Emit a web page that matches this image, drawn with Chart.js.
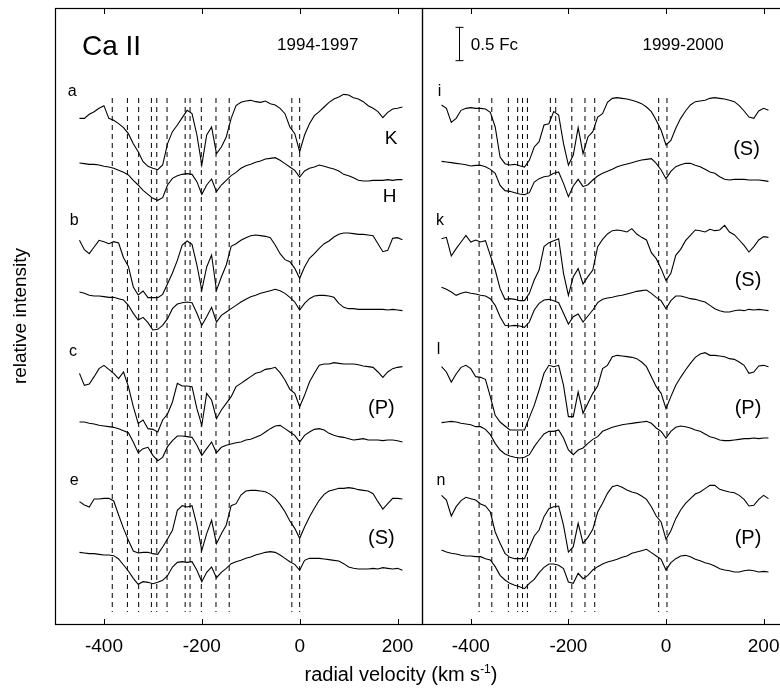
<!DOCTYPE html>
<html lang="en">
<head>
<meta charset="UTF-8" />
<title>Ca II K and H line profiles</title>

<script src="https://cdn.jsdelivr.net/npm/chart.js"></script>

<style>
  html, body { margin: 0; padding: 0; width: 780px; height: 690px; overflow: hidden; background: #fff; }
  canvas { position: absolute; top: 0; }
  #left { left: 0; }
  #right { left: 400px; }
  #xtitle {
    position: absolute; left: 0; width: 802px; top: 663px;
    text-align: center; line-height: 22px; color: #000;
    font: 20px "Liberation Sans", Arial, sans-serif;
  }
  #xtitle sup { font-size: 12px; line-height: 0; vertical-align: 0.65em; }
</style>
</head>
<body>

<canvas id="left" width="440" height="690"></canvas>
<canvas id="right" width="400" height="690"></canvas>
<div id="xtitle">radial velocity (km s<sup>-1</sup>)</div>

<script>
  // radial velocity grid (km/s)
  const velocity = [-460, -450, -440, -430, -420, -410, -400, -390, -380, -370, -360, -350, -340, -330, -320, -310,
    -300, -290, -280, -270, -260, -250, -240, -230, -220, -210, -200, -190, -180, -170, -160, -150, -140, -130,
    -120, -110, -100, -90, -80, -70, -60, -50, -40, -30, -20, -10, 0, 10, 20, 30, 40, 50, 60, 70, 80, 90, 100,
    110, 120, 130, 140, 150, 160, 170, 180, 190, 200, 210];

  const xTicks = [-400, -200, 0, 200];

  // flux in 0.01 Fc above each spectrum's own zero level
  // 1994-1997 panel (K upper, H lower)
  const aK = [null, 80, 80, 86, 90, 95, 99, 80, 77, 72, 66, 57, 42, 30, 15, 8, 5, 3, 10, 42, 60, 70, 81, 92, 87, 55, 10, 55, 67, 27, 37, 52, 80, 99, 104, 106, 107, 105, 104, 106, 102, 100, 95, 87, 67, 57, 30, 55, 72, 84, 90, 97, 104, 109, 112, 116, 115, 111, 109, 105, 99, 95, 90, 81, 89, 94, 95, 97];
  const aH = [null, 58, 57, 56, 56, 55, 53, 52, 50, 47, 44, 40, 32, 25, 17, 11, 5, 2, 6, 25, 35, 39, 41, 42, 41, 30, 11, 25, 34, 15, 25, 32, 39, 44, 50, 54, 56, 59, 61, 64, 65, 66, 62, 57, 52, 47, 37, 46, 50, 52, 55, 53, 51, 49, 46, 41, 39, 36, 32, 31, 31, 32, 32, 32, 33, 32, 33, 33];
  const bK = [null, 92, 78, 72, 82, 92, 90, 87, 90, 88, 66, 53, 22, 10, 16, 6, 6, 6, 11, 27, 43, 62, 85, 91, 86, 55, 17, 52, 70, 17, 37, 55, 83, 87, 92, 96, 99, 100, 99, 98, 96, 85, 72, 63, 60, 50, 35, 52, 65, 72, 80, 87, 91, 97, 101, 103, 103, 102, 101, 101, 100, 99, 87, 75, 77, 95, 96, 93];
  const bH = [null, 62, 60, 57, 56, 56, 55, 54, 54, 52, 50, 42, 30, 20, 24, 16, 5, 6, 12, 22, 37, 44, 46, 47, 46, 30, 12, 25, 39, 17, 27, 32, 37, 42, 47, 51, 55, 57, 60, 62, 64, 66, 64, 60, 54, 47, 35, 45, 52, 56, 57, 57, 56, 54, 45, 39, 37, 37, 36, 36, 36, 36, 36, 36, 35, 36, 35, 34];
  const cK = [null, 90, 72, 74, 85, 97, 102, 96, 90, 82, 92, 70, 40, 15, 20, 7, 6, 2, 20, 29, 47, 75, 71, 71, 70, 37, 12, 60, 50, 22, 35, 45, 55, 70, 75, 80, 85, 90, 92, 96, 97, 99, 91, 80, 66, 60, 40, 57, 77, 90, 102, 104, 104, 106, 105, 104, 104, 104, 103, 101, 100, 99, 92, 84, 92, 97, 99, 100];
  const cH = [null, 62, 62, 60, 59, 57, 56, 55, 54, 52, 49, 46, 32, 16, 22, 24, 12, 4, 9, 25, 34, 41, 41, 40, 39, 27, 12, 22, 32, 16, 24, 27, 29, 31, 32, 35, 36, 39, 42, 47, 52, 56, 57, 52, 47, 42, 32, 42, 47, 51, 52, 50, 45, 42, 40, 39, 37, 35, 36, 37, 35, 35, 35, 34, 35, 35, 34, 32];
  const eK = [null, 85, 80, 77, 89, 89, 90, 90, 86, 65, 45, 27, 11, 8, 9, 9, 7, 6, 17, 29, 42, 72, 79, 77, 79, 50, 12, 37, 57, 22, 37, 50, 79, 82, 95, 101, 102, 102, 101, 100, 96, 90, 81, 70, 56, 45, 30, 47, 62, 75, 87, 96, 101, 103, 105, 105, 106, 105, 103, 102, 101, 97, 85, 74, 82, 90, 90, 89];
  const eH = [null, 54, 53, 52, 52, 51, 50, 50, 49, 44, 35, 26, 15, 6, 10, 9, 7, 9, 12, 19, 32, 39, 40, 39, 40, 27, 10, 24, 32, 16, 24, 30, 37, 40, 42, 45, 47, 50, 52, 54, 55, 54, 50, 45, 40, 36, 27, 42, 45, 45, 45, 44, 43, 42, 41, 37, 32, 30, 29, 29, 29, 30, 29, 31, 30, 29, 30, 27];

  // 1999-2000 panel
  const iK = [100, 95, 74, 80, 92, 95, 96, 95, 95, 94, 89, 67, 22, 12, 10, 11, 9, 7, 17, 37, 45, 70, 72, 90, 85, 42, 10, 25, 66, 27, 52, 60, 82, 87, 104, 110, 111, 110, 109, 107, 105, 102, 97, 90, 77, 62, 40, 47, 65, 80, 91, 100, 105, 106, 107, 110, 111, 110, 109, 107, 105, 99, 91, 82, 80, 91, 95, 92];
  const iH = [58, 57, 56, 55, 54, 53, 51, 52, 52, 50, 46, 40, 22, 14, 13, 11, 9, 8, 11, 27, 32, 35, 36, 40, 42, 25, 5, 21, 31, 20, 23, 30, 36, 40, 43, 46, 50, 52, 54, 56, 58, 60, 61, 62, 55, 45, 32, 43, 50, 53, 55, 55, 52, 50, 46, 42, 40, 35, 31, 30, 31, 31, 31, 30, 30, 30, 29, 28];
  const kK = [97, 99, 71, 82, 92, 102, 92, 95, 92, 94, 72, 50, 22, 6, 7, 6, 4, 4, 15, 35, 50, 85, 91, 94, 97, 45, 12, 40, 52, 29, 40, 50, 85, 96, 104, 109, 110, 109, 107, 112, 104, 99, 95, 76, 67, 52, 34, 45, 72, 81, 94, 102, 110, 109, 107, 111, 109, 110, 117, 107, 103, 95, 87, 77, 85, 95, 100, 99];
  const kH = [64, 61, 57, 52, 55, 57, 55, 54, 52, 51, 47, 37, 20, 7, 6, 7, 6, 4, 12, 30, 40, 45, 46, 44, 41, 25, 9, 20, 24, 12, 21, 30, 41, 46, 48, 49, 51, 52, 54, 56, 58, 59, 60, 55, 49, 44, 32, 44, 51, 51, 49, 47, 46, 44, 42, 37, 32, 29, 27, 27, 29, 30, 29, 31, 30, 31, 30, 29];
  const lK = [100, 92, 77, 89, 99, 102, 97, 85, 84, 81, 55, 27, 17, 11, 5, 5, 5, 5, 24, 42, 65, 90, 102, 100, 102, 72, 25, 25, 62, 30, 45, 60, 71, 97, 102, 115, 117, 116, 115, 114, 112, 107, 100, 85, 70, 60, 37, 55, 72, 84, 95, 105, 114, 119, 121, 117, 117, 116, 115, 112, 111, 107, 102, 90, 92, 101, 102, 100];
  const lH = [56, 57, 58, 57, 55, 54, 53, 50, 50, 46, 38, 25, 15, 9, 6, 4, 3, 4, 8, 20, 30, 39, 43, 43, 45, 33, 15, 8, 15, 18, 25, 31, 35, 43, 46, 49, 51, 53, 54, 55, 56, 57, 58, 55, 48, 43, 33, 43, 49, 51, 50, 48, 45, 43, 39, 35, 33, 30, 29, 29, 30, 31, 32, 32, 33, 32, 33, 33];
  const nK = [102, 95, 71, 85, 94, 99, 97, 95, 89, 86, 77, 47, 30, 15, 9, 7, 7, 7, 24, 41, 50, 70, 82, 85, 86, 57, 17, 25, 60, 30, 39, 51, 77, 90, 105, 115, 117, 114, 110, 107, 105, 101, 96, 85, 71, 62, 36, 49, 67, 80, 90, 97, 104, 107, 112, 117, 117, 111, 109, 107, 106, 102, 96, 86, 87, 96, 102, 97];
  const nH = [60, 57, 55, 54, 52, 51, 51, 50, 50, 47, 45, 35, 22, 15, 10, 7, 5, 2, 10, 16, 26, 34, 39, 39, 37, 32, 12, 10, 25, 17, 22, 30, 35, 39, 42, 44, 46, 49, 51, 55, 57, 59, 61, 56, 51, 46, 30, 41, 47, 51, 52, 50, 46, 44, 41, 39, 36, 32, 30, 29, 27, 27, 29, 30, 29, 27, 28, 27];

  // vertical offset of each spectrum (Fc)
  const leftOffsets = [6.785, 6.335, 4.835, 4.36, 2.86, 2.41, 0.985, 0.535];
  const rightOffsets = [6.785, 6.36, 4.81, 4.41, 2.86, 2.46, 0.91, 0.51];

  // absorption components marked with dashed lines (km/s)
  const leftComponents = [-383, -352, -329, -303, -292, -271, -234, -224, -201, -171, -144, -16, 0];
  const rightComponents = [-383, -357, -323, -304, -294, -284, -237, -226, -193, -166, -146, -15, 2];
  const dashRange = [0.18, 7.89];

  const FONT = '"Liberation Sans", Arial, sans-serif';
  Chart.defaults.font.family = FONT;
  Chart.defaults.color = '#000';

  // frame, inward ticks, scale bar and in-panel labels
  const panelDecor = {
    id: 'panelDecor',
    afterDatasetsDraw(chart, args, opts) {
      const { ctx, chartArea: a, scales: { x, y } } = chart;
      ctx.save();
      ctx.strokeStyle = '#000';
      ctx.lineWidth = 1.2;
      ctx.strokeRect(a.left + 0.5, a.top + 0.5, a.right - a.left, a.bottom - a.top);

      ctx.lineWidth = 1;
      ctx.beginPath();
      xTicks.forEach(v => {
        const px = Math.round(x.getPixelForValue(v)) + 0.5;
        ctx.moveTo(px, a.top);
        ctx.lineTo(px, a.top + 6);
        ctx.moveTo(px, a.bottom);
        ctx.lineTo(px, a.bottom - 5);
      });
      ctx.stroke();

      if (opts.bar) {
        const bx = Math.round(x.getPixelForValue(opts.bar.v)) + 0.5;
        const y0 = y.getPixelForValue(opts.bar.from);
        const y1 = y.getPixelForValue(opts.bar.from + opts.bar.size);
        ctx.beginPath();
        ctx.moveTo(bx, y0); ctx.lineTo(bx, y1);
        ctx.moveTo(bx - 4, y0); ctx.lineTo(bx + 4, y0);
        ctx.moveTo(bx - 4, y1); ctx.lineTo(bx + 4, y1);
        ctx.stroke();
      }

      ctx.fillStyle = '#000';
      (opts.labels || []).forEach(l => {
        ctx.font = `${l.s}px ${FONT}`;
        ctx.textAlign = l.a || 'center';
        ctx.textBaseline = l.b || 'middle';
        ctx.fillText(l.t, x.getPixelForValue(l.v), y.getPixelForValue(l.y));
      });
      ctx.restore();
    }
  };

  function buildDatasets(spectra, offsets, components) {
    const sets = [];
    components.forEach(v => {
      sets.push({
        data: [{ x: v, y: dashRange[1] }, { x: v, y: dashRange[0] }],
        borderColor: '#000', borderWidth: 1, borderDash: [5, 4], pointRadius: 0
      });
    });
    spectra.forEach((vals, k) => {
      sets.push({
        data: velocity.map((v, i) => ({ x: v, y: vals[i] == null ? null : offsets[k] + vals[i] / 100 })),
        borderColor: '#000', borderWidth: 1.1, pointRadius: 0, tension: 0
      });
    });
    return sets;
  }

  function makeChart(id, spectra, offsets, components, decor, yAxis, padding) {
    return new Chart(document.getElementById(id), {
      type: 'line',
      data: { datasets: buildDatasets(spectra, offsets, components) },
      plugins: [panelDecor],
      options: {
        responsive: false,
        animation: false,
        events: [],
        layout: { padding: padding },
        plugins: { legend: { display: false }, tooltip: { enabled: false }, panelDecor: decor },
        scales: {
          x: {
            type: 'linear', min: -500, max: 250,
            grid: { display: false, drawTicks: false },
            border: { display: false },
            ticks: { font: { size: 19 }, padding: 11, maxRotation: 0, autoSkip: false },
            afterBuildTicks: s => { s.ticks = xTicks.map(v => ({ value: v })); },
            afterFit: s => { s.height = 66; }
          },
          y: yAxis
        }
      }
    });
  }

  makeChart('left', [aK, aH, bK, bH, cK, cH, eK, eH], leftOffsets, leftComponents, {
    labels: [
      { t: 'Ca II', v: -445, y: 8.535, s: 28, a: 'left', b: 'alphabetic' },
      { t: '1994-1997', v: 37, y: 8.685, s: 17 },
      { t: 'a', v: -465, y: 7.98, s: 16 },
      { t: 'K', v: 187, y: 7.275, s: 19 },
      { t: 'H', v: 184, y: 6.41, s: 19 },
      { t: 'b', v: -461, y: 6.045, s: 16 },
      { t: 'c', v: -463, y: 4.08, s: 16 },
      { t: '(P)', v: 167, y: 3.23, s: 20 },
      { t: 'e', v: -461, y: 2.145, s: 16 },
      { t: '(S)', v: 167, y: 1.28, s: 20 }
    ]
  }, {
    min: 0, max: 9.24,
    grid: { display: false }, border: { display: false },
    ticks: { display: false },
    title: { display: true, text: 'relative intensity', font: { size: 19 }, padding: { top: 9, bottom: 0 } },
    afterFit: s => { s.width = 55; }
  }, { left: 0, right: 18, top: 8, bottom: 0 });

  makeChart('right', [iK, iH, kK, kH, lK, lH, nK, nH], rightOffsets, rightComponents, {
    bar: { v: -424, from: 8.45, size: 0.5 },
    labels: [
      { t: '0.5 Fc', v: -400, y: 8.685, s: 17, a: 'left' },
      { t: '1999-2000', v: 35, y: 8.685, s: 17 },
      { t: 'i', v: -464, y: 7.98, s: 16 },
      { t: '(S)', v: 165, y: 7.125, s: 20 },
      { t: 'k', v: -463, y: 6.045, s: 16 },
      { t: '(S)', v: 168, y: 5.16, s: 20 },
      { t: 'l', v: -466, y: 4.11, s: 16 },
      { t: '(P)', v: 168, y: 3.24, s: 20 },
      { t: 'n', v: -461, y: 2.145, s: 16 },
      { t: '(P)', v: 168, y: 1.29, s: 20 }
    ]
  }, {
    display: false, min: 0, max: 9.24
  }, { left: 22, right: 12, top: 8, bottom: 0 });
</script>
</body>
</html>
